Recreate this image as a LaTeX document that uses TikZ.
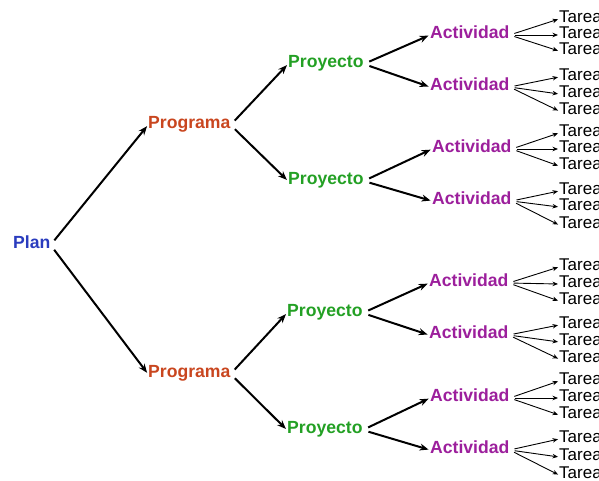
\documentclass[tikz,border=0pt]{standalone}
\usepackage{fontspec}
\setmainfont{Liberation Sans}
\usetikzlibrary{arrows.meta}
\definecolor{planc}{HTML}{2A3CBE}
\definecolor{progc}{HTML}{C9461F}
\definecolor{proyc}{HTML}{23A024}
\definecolor{actc}{HTML}{9C1F9C}
\tikzset{
  lbl/.style={anchor=west,yshift=-3pt,inner xsep=0pt,inner ysep=0pt,text height=0.72em,text depth=0pt,font=\fontsize{17.6}{17.6}\selectfont\bfseries},
  plan/.style={lbl,text=planc},
  prog/.style={lbl,text=progc},
  proy/.style={lbl,text=proyc},
  act/.style={lbl,text=actc},
  tarea/.style={anchor=west,yshift=-3pt,inner xsep=0pt,inner ysep=0pt,text height=0.72em,text depth=0pt,font=\fontsize{17}{17}\selectfont},
  big/.style={line width=2pt,-{Stealth[length=9pt,width=7pt]},shorten <=6pt,shorten >=1.5pt},
  small/.style={line width=0.9pt,-{Stealth[length=5.5pt,width=4.5pt]},shorten <=5pt,shorten >=1pt}
}
\begin{document}
\begin{tikzpicture}[x=1pt,y=-1pt]
\useasboundingbox (0,0) rectangle (599,480);
\clip (0,0) rectangle (599,480);
\node[plan] (plan) at (13,242) {Plan};
\node[prog] (pa) at (148,122) {Programa};
\node[prog] (pb) at (148,371) {Programa};
\node[proy] (ya) at (288,61) {Proyecto};
\node[proy] (yb) at (288,178) {Proyecto};
\node[proy] (yc) at (287,310) {Proyecto};
\node[proy] (yd) at (287,427) {Proyecto};
\draw[big] (plan.east) -- (pa.west);
\draw[big] (plan.east) -- (pb.west);
\draw[big] (pa.east) -- (ya.west);
\draw[big] (pa.east) -- (yb.west);
\draw[big] (pb.east) -- (yc.west);
\draw[big] (pb.east) -- (yd.west);
\foreach \n/\x/\y/\p/\ta/\tb/\tc in {
  a1/430/32/ya/16/32/48,
  a2/430/84/ya/74/91/108,
  a3/432/146/yb/130/146/163,
  a4/432/198/yb/188/204/222,
  a5/429/280/yc/264/281/298,
  a6/429/332/yc/322/339/356,
  a7/430/395/yd/378/395/412,
  a8/430/447/yd/436/454/472}{
  \node[act] (\n) at (\x,\y) {Actividad};
  \draw[big] (\p.east) -- (\n.west);
  \node[tarea] (\n t1) at (559,\ta) {Tarea};
  \node[tarea] (\n t2) at (559,\tb) {Tarea};
  \node[tarea] (\n t3) at (559,\tc) {Tarea};
  \draw[small] (\n.east) -- (\n t1.west);
  \draw[small] (\n.east) -- (\n t2.west);
  \draw[small] (\n.east) -- (\n t3.west);
}
\end{tikzpicture}
\end{document}
